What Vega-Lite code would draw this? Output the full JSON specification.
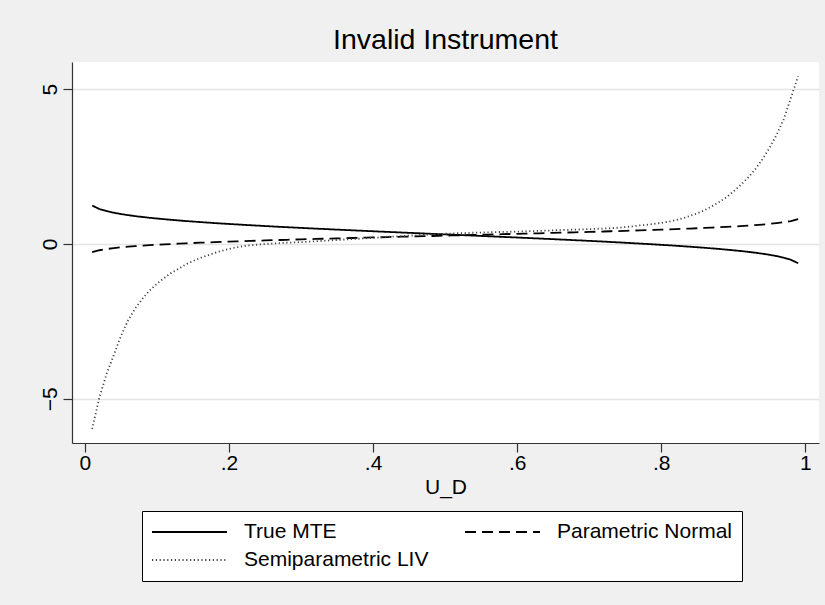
{
  "$schema": "https://vega.github.io/schema/vega-lite/v6.json",
  "width": 747,
  "height": 381,
  "autosize": {"type": "none"},
  "padding": {"left": 72, "top": 62, "right": 6, "bottom": 162},
  "background": "#f0f0f0",
  "config": {
    "font": "Liberation Sans",
    "view": {"fill": "white", "stroke": null},
    "axis": {
      "domainColor": "#333333", "domainWidth": 1.2,
      "tickColor": "#333333", "tickWidth": 1.2, "tickSize": 9,
      "labelFont": "Liberation Sans", "labelFontSize": 21, "labelColor": "black",
      "titleFont": "Liberation Sans", "titleFontSize": 21, "titleFontWeight": "normal", "titleColor": "black",
      "gridColor": "#e4e4e4", "gridWidth": 1.5, "labelFlush": false
    },
    "legend": {"labelFont": "Liberation Sans"},
    "title": {"font": "Liberation Sans"}
  },
  "title": {"text": "Invalid Instrument", "fontSize": 28.5, "fontWeight": "normal", "color": "black", "offset": 8, "anchor": "middle", "frame": "group"},
  "data": {"values": [
    {"u":0.01,"m":1.241,"p":-0.265,"l":-5.98},
    {"u":0.02,"m":1.131,"p":-0.202,"l":-4.96},
    {"u":0.03,"m":1.062,"p":-0.163,"l":-4.20},
    {"u":0.04,"m":1.010,"p":-0.133,"l":-3.59},
    {"u":0.05,"m":0.968,"p":-0.108,"l":-2.97},
    {"u":0.06,"m":0.932,"p":-0.088,"l":-2.46},
    {"u":0.07,"m":0.900,"p":-0.069,"l":-2.07},
    {"u":0.08,"m":0.872,"p":-0.053,"l":-1.76},
    {"u":0.09,"m":0.846,"p":-0.038,"l":-1.50},
    {"u":0.10,"m":0.823,"p":-0.025,"l":-1.28},
    {"u":0.11,"m":0.801,"p":-0.012,"l":-1.10},
    {"u":0.12,"m":0.780,"p":0.000,"l":-0.93},
    {"u":0.13,"m":0.761,"p":0.011,"l":-0.80},
    {"u":0.14,"m":0.742,"p":0.022,"l":-0.66},
    {"u":0.15,"m":0.725,"p":0.032,"l":-0.55},
    {"u":0.16,"m":0.708,"p":0.041,"l":-0.45},
    {"u":0.17,"m":0.692,"p":0.051,"l":-0.37},
    {"u":0.18,"m":0.676,"p":0.059,"l":-0.29},
    {"u":0.19,"m":0.661,"p":0.068,"l":-0.22},
    {"u":0.20,"m":0.647,"p":0.076,"l":-0.16},
    {"u":0.21,"m":0.633,"p":0.085,"l":-0.11},
    {"u":0.22,"m":0.619,"p":0.092,"l":-0.07},
    {"u":0.23,"m":0.606,"p":0.100,"l":-0.04},
    {"u":0.24,"m":0.593,"p":0.108,"l":-0.02},
    {"u":0.25,"m":0.580,"p":0.115,"l":0.00},
    {"u":0.26,"m":0.567,"p":0.122,"l":0.015},
    {"u":0.27,"m":0.555,"p":0.129,"l":0.03},
    {"u":0.28,"m":0.543,"p":0.136,"l":0.04},
    {"u":0.29,"m":0.531,"p":0.143,"l":0.05},
    {"u":0.30,"m":0.520,"p":0.149,"l":0.06},
    {"u":0.31,"m":0.508,"p":0.156,"l":0.075},
    {"u":0.32,"m":0.497,"p":0.162,"l":0.09},
    {"u":0.33,"m":0.486,"p":0.169,"l":0.10},
    {"u":0.34,"m":0.475,"p":0.175,"l":0.115},
    {"u":0.35,"m":0.464,"p":0.181,"l":0.13},
    {"u":0.36,"m":0.453,"p":0.188,"l":0.145},
    {"u":0.37,"m":0.443,"p":0.194,"l":0.16},
    {"u":0.38,"m":0.432,"p":0.200,"l":0.17},
    {"u":0.39,"m":0.422,"p":0.206,"l":0.185},
    {"u":0.40,"m":0.411,"p":0.212,"l":0.20},
    {"u":0.41,"m":0.401,"p":0.218,"l":0.215},
    {"u":0.42,"m":0.391,"p":0.224,"l":0.23},
    {"u":0.43,"m":0.381,"p":0.229,"l":0.24},
    {"u":0.44,"m":0.370,"p":0.235,"l":0.255},
    {"u":0.45,"m":0.360,"p":0.241,"l":0.27},
    {"u":0.46,"m":0.350,"p":0.247,"l":0.28},
    {"u":0.47,"m":0.340,"p":0.253,"l":0.295},
    {"u":0.48,"m":0.330,"p":0.258,"l":0.31},
    {"u":0.49,"m":0.320,"p":0.264,"l":0.32},
    {"u":0.50,"m":0.310,"p":0.270,"l":0.33},
    {"u":0.51,"m":0.300,"p":0.276,"l":0.34},
    {"u":0.52,"m":0.290,"p":0.282,"l":0.35},
    {"u":0.53,"m":0.280,"p":0.287,"l":0.355},
    {"u":0.54,"m":0.270,"p":0.293,"l":0.365},
    {"u":0.55,"m":0.260,"p":0.299,"l":0.37},
    {"u":0.56,"m":0.250,"p":0.305,"l":0.377},
    {"u":0.57,"m":0.239,"p":0.311,"l":0.384},
    {"u":0.58,"m":0.229,"p":0.316,"l":0.39},
    {"u":0.59,"m":0.219,"p":0.322,"l":0.395},
    {"u":0.60,"m":0.209,"p":0.328,"l":0.40},
    {"u":0.61,"m":0.198,"p":0.334,"l":0.41},
    {"u":0.62,"m":0.188,"p":0.340,"l":0.415},
    {"u":0.63,"m":0.177,"p":0.346,"l":0.425},
    {"u":0.64,"m":0.167,"p":0.352,"l":0.43},
    {"u":0.65,"m":0.156,"p":0.359,"l":0.44},
    {"u":0.66,"m":0.145,"p":0.365,"l":0.45},
    {"u":0.67,"m":0.134,"p":0.371,"l":0.455},
    {"u":0.68,"m":0.123,"p":0.378,"l":0.465},
    {"u":0.69,"m":0.112,"p":0.384,"l":0.47},
    {"u":0.70,"m":0.100,"p":0.391,"l":0.48},
    {"u":0.71,"m":0.089,"p":0.397,"l":0.49},
    {"u":0.72,"m":0.077,"p":0.404,"l":0.50},
    {"u":0.73,"m":0.065,"p":0.411,"l":0.51},
    {"u":0.74,"m":0.053,"p":0.418,"l":0.525},
    {"u":0.75,"m":0.040,"p":0.425,"l":0.545},
    {"u":0.76,"m":0.027,"p":0.432,"l":0.57},
    {"u":0.77,"m":0.014,"p":0.440,"l":0.60},
    {"u":0.78,"m":0.001,"p":0.448,"l":0.62},
    {"u":0.79,"m":-0.013,"p":0.455,"l":0.65},
    {"u":0.80,"m":-0.027,"p":0.464,"l":0.68},
    {"u":0.81,"m":-0.041,"p":0.472,"l":0.72},
    {"u":0.82,"m":-0.056,"p":0.481,"l":0.77},
    {"u":0.83,"m":-0.072,"p":0.489,"l":0.83},
    {"u":0.84,"m":-0.088,"p":0.499,"l":0.91},
    {"u":0.85,"m":-0.105,"p":0.508,"l":0.99},
    {"u":0.86,"m":-0.122,"p":0.519,"l":1.09},
    {"u":0.87,"m":-0.141,"p":0.529,"l":1.21},
    {"u":0.88,"m":-0.160,"p":0.540,"l":1.35},
    {"u":0.89,"m":-0.181,"p":0.552,"l":1.50},
    {"u":0.90,"m":-0.203,"p":0.565,"l":1.69},
    {"u":0.91,"m":-0.226,"p":0.578,"l":1.90},
    {"u":0.92,"m":-0.252,"p":0.593,"l":2.13},
    {"u":0.93,"m":-0.280,"p":0.609,"l":2.40},
    {"u":0.94,"m":-0.312,"p":0.628,"l":2.72},
    {"u":0.95,"m":-0.348,"p":0.648,"l":3.09},
    {"u":0.96,"m":-0.390,"p":0.673,"l":3.52},
    {"u":0.97,"m":-0.442,"p":0.703,"l":4.03},
    {"u":0.98,"m":-0.511,"p":0.742,"l":4.72},
    {"u":0.99,"m":-0.621,"p":0.805,"l":5.42}
  ]},
  "transform": [{"fold": ["m", "p", "l"], "as": ["key", "v"]}],
  "mark": {"type": "line", "strokeWidth": 1.8, "clip": true},
  "encoding": {
    "x": {
      "field": "u", "type": "quantitative",
      "scale": {"domain": [-0.018, 1.019], "nice": false, "zero": false},
      "axis": {"values": [0, 0.2, 0.4, 0.6, 0.8, 1], "grid": false, "title": "U_D", "labelPadding": 0, "titlePadding": 3,
               "labelExpr": "datum.value == 0 ? '0' : datum.value == 1 ? '1' : substring(format(datum.value, '.1f'), 1)"}
    },
    "y": {
      "field": "v", "type": "quantitative",
      "scale": {"domain": [-6.43, 5.88], "nice": false, "zero": false},
      "axis": {"values": [-5, 0, 5], "grid": true, "title": null, "labelAngle": -90, "labelPadding": 3}
    },
    "strokeDash": {
      "field": "key", "type": "nominal",
      "scale": {"domain": ["m", "p", "l"], "range": [[1, 0], [11, 6], [1.2, 2.6]]},
      "legend": {
        "orient": "none", "legendX": 70, "legendY": 449, "direction": "horizontal", "columns": 2,
        "title": null, "symbolType": "stroke", "symbolSize": 5625, "symbolStrokeWidth": 1.8, "clipHeight": 24,
        "labelFontSize": 21, "labelOffset": 16, "columnPadding": 35, "rowPadding": 4, "padding": 9,
        "fillColor": "white", "strokeColor": "black", "gridAlign": "all", "labelColor": "black", "labelLimit": 400,
        "labelExpr": "datum.label == 'm' ? 'True MTE' : datum.label == 'p' ? 'Parametric Normal' : 'Semiparametric LIV'"
      }
    },
    "color": {
      "field": "key", "type": "nominal",
      "scale": {"domain": ["m", "p", "l"], "range": ["#000000", "#000000", "#444444"]},
      "legend": {
        "orient": "none", "legendX": 70, "legendY": 449, "direction": "horizontal", "columns": 2,
        "title": null, "symbolType": "stroke", "symbolSize": 5625, "symbolStrokeWidth": 1.8, "clipHeight": 24,
        "labelFontSize": 21, "labelOffset": 16, "columnPadding": 35, "rowPadding": 4, "padding": 9,
        "fillColor": "white", "strokeColor": "black", "gridAlign": "all", "labelColor": "black", "labelLimit": 400,
        "labelExpr": "datum.label == 'm' ? 'True MTE' : datum.label == 'p' ? 'Parametric Normal' : 'Semiparametric LIV'"
      }
    }
  }
}
